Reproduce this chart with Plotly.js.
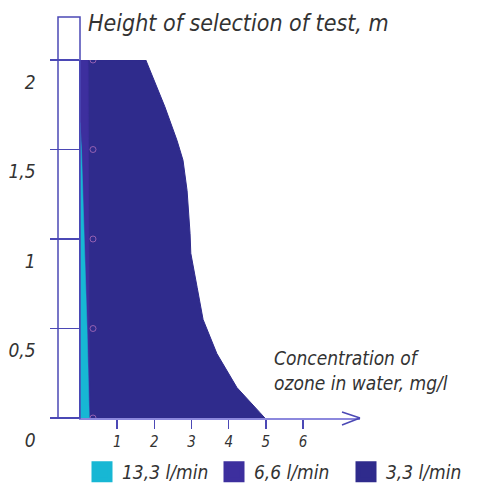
<!DOCTYPE html>
<html>
<head>
<meta charset="utf-8">
<script src="https://cdn.plot.ly/plotly-3.0.1.min.js"></script>
<style>html,body{margin:0;padding:0;background:#fff;}#chart{width:492px;height:488px;}</style>
</head>
<body>
<div id="chart"></div>
<script>
// Series: concentration of ozone in water (mg/l) vs height of selection (m)
var seriesNames = ['13,3 l/min', '6,6 l/min', '3,3 l/min'];
var seriesColors = ['#17b7d4', '#3d2f9e', '#2f2b8c'];

var height33 = [0, 0.03, 0.17, 0.36, 0.55, 0.73, 0.92, 1.03, 1.27, 1.44, 1.55, 1.74, 2.0];
var conc33   = [4.97, 4.84, 4.22, 3.68, 3.31, 3.15, 2.98, 2.96, 2.88, 2.77, 2.61, 2.28, 1.77];

var height66 = [0, 0.5, 1, 1.5, 2];
var conc66   = [0.26, 0.25, 0.24, 0.23, 0.22];

var height133 = [0, 0.5, 1, 1.5, 1.65];
var conc133   = [0.25, 0.19, 0.12, 0.04, 0.0];

var markHeights = [0, 0.5, 1, 1.5, 2];
var markConc    = [0.35, 0.35, 0.35, 0.35, 0.35];

var xTicks = [1, 2, 3, 4, 5, 6];
var yTicks = [0, 0.5, 1, 1.5, 2];

var FONT = 'DejaVu Sans Condensed, Liberation Sans Narrow, DejaVu Sans, sans-serif';
var AX = '#4b48b5';

// closed regions bounded by the height axis (x = 0)
function region(xs, ys) {
  return {
    x: [0].concat(xs, [0, 0]),
    y: [ys[0]].concat(ys, [ys[ys.length - 1], ys[0]])
  };
}
var regions = [region(conc133, height133), region(conc66, height66), region(conc33, height33)];

var traces = [];
// draw order: 3,3 (back), 6,6, 13,3 (front)
[2, 1, 0].forEach(function (i) {
  traces.push({x: regions[i].x, y: regions[i].y, name: seriesNames[i], type: 'scatter', mode: 'lines',
    fill: 'toself', fillcolor: seriesColors[i], line: {color: seriesColors[i], width: i === 2 ? 1 : 0.5},
    showlegend: false, legendgroup: 'g' + i});
});
traces.push({x: markConc, y: markHeights, type: 'scatter', mode: 'markers', showlegend: false, hoverinfo: 'skip',
  marker: {symbol: 'circle-open', size: 6, color: 'rgba(210,130,200,0.6)', line: {width: 1}}});
// legend swatches
[0, 1, 2].forEach(function (i) {
  traces.push({x: [null], y: [null], name: seriesNames[i], type: 'scatter', mode: 'markers',
    legendgroup: 'g' + i, marker: {symbol: 'square', size: 26, color: seriesColors[i],
    line: {color: seriesColors[i], width: 5}}});
});

function px(p){ return (p - 80) / 280; }
function py(p){ return (418 - p) / 358; }

var layout = {
  width: 492, height: 488,
  margin: {l: 80, r: 132, t: 60, b: 70, autoexpand: false},
  paper_bgcolor: '#fff', plot_bgcolor: '#fff',
  separators: ', ',
  showlegend: true,
  title: {text: 'Height of selection of test, m', x: 88/492, xanchor: 'left', xref: 'container',
          y: 1 - 23/488, yanchor: 'middle', yref: 'container',
          font: {family: FONT, size: 23, style: 'italic', color: '#333'}},
  xaxis: {range: [0, 7.53], showgrid: false, zeroline: false, showline: true, linecolor: '#8c88dd', linewidth: 1.5,
          ticks: 'outside', ticklen: 9, tickcolor: AX, tickwidth: 1.5, tickvals: xTicks,
          tickfont: {family: FONT, size: 15, style: 'italic', color: '#333'}},
  yaxis: {range: [0, 2], showgrid: false, zeroline: false, showline: true, linecolor: AX, linewidth: 1.5,
          ticks: 'outside', ticklen: 29, tickcolor: AX, tickwidth: 1.5, tickvals: yTicks,
          ticklabelstandoff: 10, ticklabelshift: 22,
          tickfont: {family: FONT, size: 19, style: 'italic', color: '#333'}},
  legend: {orientation: 'h', x: px(478), xanchor: 'right', y: py(472), yanchor: 'middle',
           bgcolor: 'rgba(0,0,0,0)', itemwidth: 30, tracegroupgap: 0,
           entrywidth: 87, entrywidthmode: 'pixels',
           font: {family: FONT, size: 19, style: 'italic', color: '#333'}},
  shapes: [
    {type: 'rect', xref: 'paper', yref: 'paper', x0: px(58), x1: 0, y0: 0, y1: py(17),
     line: {color: AX, width: 1.5}, fillcolor: 'rgba(0,0,0,0)'},
    {type: 'line', xref: 'paper', yref: 'paper', x0: px(342), y0: py(412), x1: px(360), y1: py(418),
     line: {color: AX, width: 1.5}},
    {type: 'line', xref: 'paper', yref: 'paper', x0: px(342), y0: py(425), x1: px(360), y1: py(418),
     line: {color: AX, width: 1.5}}
  ],
  annotations: [
    {text: 'Concentration of<br>ozone in water, mg/l', xref: 'paper', yref: 'paper',
     x: px(272), xanchor: 'left', y: py(370), yanchor: 'middle', showarrow: false, align: 'left',
     font: {family: FONT, size: 19, style: 'italic', color: '#333'}}
  ]
};

Plotly.newPlot('chart', traces, layout, {displayModeBar: false, staticPlot: true});
</script>
</body>
</html>
